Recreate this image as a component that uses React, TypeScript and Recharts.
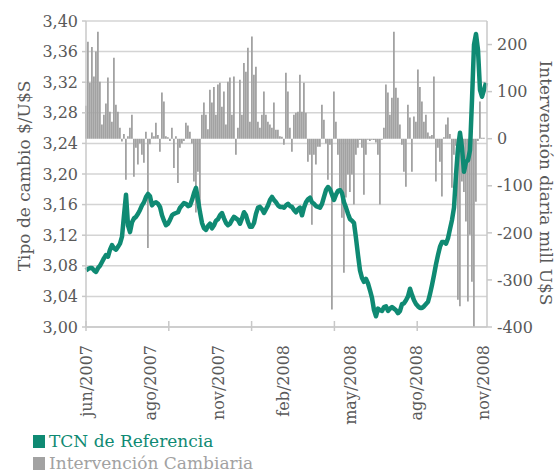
import React from "react";
import { ComposedChart, Bar, Line, XAxis, YAxis, CartesianGrid, Label } from "recharts";

// Tipo de cambio de referencia ($/U$S), lectura diaria aproximada
const tcn = [
  3.074, 3.076, 3.077, 3.077, 3.074, 3.072, 3.077, 3.08, 3.085, 3.09,
  3.094, 3.092, 3.101, 3.107, 3.103, 3.101, 3.105, 3.109, 3.118, 3.146,
  3.173, 3.133, 3.124, 3.137, 3.142, 3.144, 3.148, 3.153, 3.159, 3.163,
  3.17, 3.174, 3.171, 3.159, 3.162, 3.163, 3.161, 3.157, 3.146, 3.139,
  3.133, 3.135, 3.14, 3.146, 3.148, 3.149, 3.15, 3.156, 3.159, 3.162,
  3.161, 3.158, 3.159, 3.166, 3.175, 3.182, 3.166, 3.15, 3.136, 3.129,
  3.127, 3.132, 3.135, 3.129, 3.133, 3.139, 3.141, 3.146, 3.149, 3.142,
  3.136, 3.133, 3.135, 3.14, 3.144, 3.142, 3.14, 3.135, 3.142, 3.15,
  3.146, 3.137, 3.131, 3.131, 3.136, 3.148, 3.156, 3.157, 3.154, 3.149,
  3.154, 3.159, 3.166, 3.17, 3.166, 3.163, 3.159, 3.157, 3.157, 3.156,
  3.159, 3.161, 3.158, 3.157, 3.153, 3.15, 3.154, 3.156, 3.146, 3.156,
  3.163, 3.167, 3.169, 3.163, 3.161, 3.158, 3.157, 3.156, 3.161, 3.17,
  3.179, 3.183, 3.18, 3.173, 3.166, 3.173, 3.178, 3.179, 3.175, 3.163,
  3.156, 3.148, 3.141, 3.139, 3.136, 3.116, 3.094, 3.074, 3.064, 3.059,
  3.063, 3.057, 3.048, 3.038, 3.022, 3.014, 3.024, 3.022, 3.021, 3.026,
  3.027, 3.021, 3.024, 3.026, 3.024, 3.022, 3.018, 3.021, 3.03, 3.031,
  3.035, 3.04, 3.05, 3.042, 3.035, 3.03, 3.027, 3.025, 3.025, 3.027,
  3.03, 3.033, 3.043, 3.055, 3.068, 3.082, 3.094, 3.105, 3.111, 3.111,
  3.109, 3.116, 3.128, 3.14, 3.156, 3.199, 3.234, 3.254, 3.234, 3.203,
  3.216, 3.218, 3.231, 3.297, 3.369, 3.383, 3.362, 3.31, 3.301, 3.31,
  3.319,
];

// Intervención cambiaria diaria (mill U$S)
const intervencion = [
  70, 206, 119, 195, 132, 185, 227, 121, 30, 51,
  75, 130, 57, 36, 172, 72, 57, 23, -6, 10,
  -87, 5, 23, 51, -81, -19, -55, -10, -34, -51,
  15, -232, -12, 13, 5, 34, 8, -28, 98, 79,
  5, 3, -5, 23, -62, 5, -94, -19, -10, -5,
  34, 28, 15, -10, -91, -157, -70, -161, 51, 77,
  51, 20, 104, 77, 110, 51, 115, 119, 68, 100,
  30, 121, 130, 51, 132, -34, 23, 125, 51, 161,
  142, 193, 36, 217, 136, 153, 36, 23, 51, 100,
  51, 36, 30, 23, 77, 19, 19, 5, 4, -13,
  140, 100, 23, -28, 51, 55, 57, 136, 57, 119,
  55, -49, -34, -183, -34, -55, -17, -17, 72, 40,
  -10, -87, -13, -363, 100, 36, -34, -104, -168, -285,
  -125, -76, -113, -76, -140, -34, -19, -3, -19, -119,
  -34, -2, -5, -2, -3, -8, -34, -140, -2, 23,
  115, 98, 51, 87, 227, 108, 87, 30, -13, -70,
  -102, 72, 45, -70, 47, 36, 147, 110, 79, 36,
  51, 13, 5, 8, 132, -91, -19, -49, -123, 3,
  30, 45, 10, -104, -34, -15, -342, -356, -91, -113,
  -176, -346, -204, -304, -400, -134, -5, 79, 2, 2,
  0,
];

const monthLabels = ["jun/2007", "ago/2007", "nov/2007", "feb/2008", "may/2008", "ago/2008", "nov/2008"];
const labelAt = [0, 32, 66, 98.5, 132, 165, 198.5];
const markAt = [0, 41.4, 82.8, 124.2, 165.6];
const leftTicks = [3.0, 3.04, 3.08, 3.12, 3.16, 3.2, 3.24, 3.28, 3.32, 3.36, 3.4];
const rightTicks = [-400, -300, -200, -100, 0, 100, 200];

const data = tcn.map((v, i) => ({ i, tcn: v, interv: intervencion[i] }));

const GREEN = "#0f8a73";
const GREY = "#a2a2a2";
const TEXT = "#595959";
const AXIS = "#c8c8c8";
const FONT = "'DejaVu Serif', serif";

function DateTick(props: any) {
  const { x, y, payload } = props;
  const v = payload.value;
  const li = labelAt.indexOf(v);
  const isMark = markAt.includes(v);
  const ty = y + 18;
  return (
    <g>
      {isMark && <line x1={x} x2={x} y1={y - 6} y2={y + 4} stroke={AXIS} strokeWidth={1.5} />}
      {li >= 0 && (
        <text x={x} y={ty} transform={`rotate(-90 ${x} ${ty})`} textAnchor="end" dy="0.35em"
          fontSize={16} fill={TEXT} fontFamily={FONT}>
          {monthLabels[li]}
        </text>
      )}
    </g>
  );
}

function LegendRow({ top, color, text }: { top: number; color: string; text: string }) {
  return (
    <div style={{ position: "absolute", left: 33, top, height: 18, display: "flex", alignItems: "center", color, fontFamily: FONT, fontSize: 17, lineHeight: "18px", whiteSpace: "nowrap" }}>
      <span style={{ display: "inline-block", width: 12, height: 13, background: color, marginRight: 4 }} />
      {text}
    </div>
  );
}

export default function App() {
  const xTicks = Array.from(new Set([...labelAt, ...markAt])).sort((a, b) => a - b);
  return (
    <div style={{ position: "absolute", left: 0, top: 0, width: 557, height: 472, background: "#fff", overflow: "hidden" }}>
      <ComposedChart width={557} height={472} data={data} margin={{ top: 21, right: 0, bottom: 0, left: 0 }}>
        <CartesianGrid yAxisId="left" vertical={false} stroke="#d4d4d4" strokeWidth={1.5} />
        <XAxis
          dataKey="i"
          type="number"
          domain={[0, 200.5]}
          ticks={xTicks}
          interval={0}
          height={145}
          tickSize={0}
          tickMargin={0}
          tickLine={false}
          axisLine={{ stroke: AXIS, strokeWidth: 1.5 }}
          tick={(p: any) => <DateTick {...p} />}
        />
        <YAxis
          yAxisId="left"
          width={86}
          domain={[3.0, 3.4]}
          ticks={leftTicks}
          interval={0}
          tickSize={4}
          tickMargin={4}
          tickFormatter={(v: number) => v.toFixed(2).replace(".", ",")}
          tick={{ fontSize: 16, fill: TEXT, fontFamily: FONT }}
          tickLine={{ stroke: AXIS, strokeWidth: 1.5 }}
          axisLine={{ stroke: AXIS, strokeWidth: 1.5 }}
        >
          <Label
            content={() => (
              <text x={24} y={176} transform="rotate(-90 24 176)" textAnchor="middle" dy="0.35em"
                fontSize={17} fill={TEXT} fontFamily={FONT}>
                Tipo de cambio $/U$S
              </text>
            )}
          />
        </YAxis>
        <YAxis
          yAxisId="right"
          orientation="right"
          width={70}
          domain={[-400, 250]}
          ticks={rightTicks}
          interval={0}
          tickSize={5}
          tickMargin={5}
          tick={{ fontSize: 16, fill: TEXT, fontFamily: FONT }}
          tickLine={{ stroke: AXIS, strokeWidth: 1.5 }}
          axisLine={{ stroke: AXIS, strokeWidth: 1.5 }}
        >
          <Label
            content={() => (
              <text x={546} y={183} transform="rotate(90 546 183)" textAnchor="middle" dy="0.35em"
                fontSize={17} fill={TEXT} fontFamily={FONT}>
                Intervención diaria mill U$S
              </text>
            )}
          />
        </YAxis>
        <Bar yAxisId="right" dataKey="interv" fill={GREY} barSize={1.8} isAnimationActive={false} />
        <Line
          yAxisId="left"
          dataKey="tcn"
          type="linear"
          stroke={GREEN}
          strokeWidth={4.5}
          strokeLinejoin="round"
          dot={false}
          activeDot={false}
          isAnimationActive={false}
        />
      </ComposedChart>
      <LegendRow top={432} color={GREEN} text="TCN de Referencia" />
      <LegendRow top={454} color={GREY} text="Intervención Cambiaria" />
    </div>
  );
}
